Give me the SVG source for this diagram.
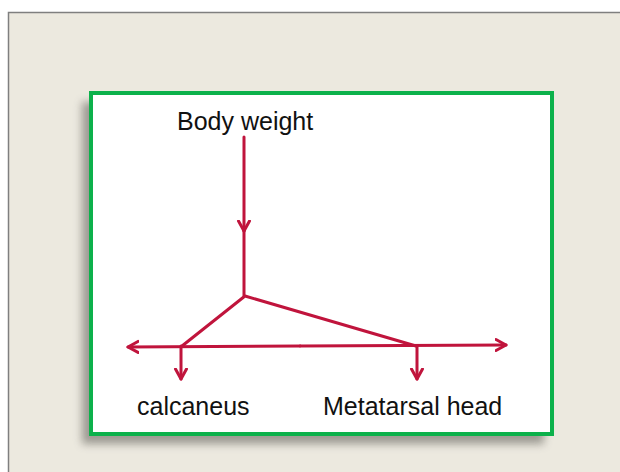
<svg xmlns="http://www.w3.org/2000/svg" width="620" height="472" viewBox="0 0 620 472">
<style>
.lbl{font-family:"Liberation Sans",Arial,sans-serif;font-size:25px;fill:#111}
.ar{stroke:#C0143C;stroke-width:3;fill:none;stroke-linecap:round;stroke-linejoin:round}
</style>
<defs>
<marker id="ah" markerUnits="userSpaceOnUse" markerWidth="16" markerHeight="16" refX="11" refY="6" orient="auto" viewBox="0 0 16 12">
<path d="M1,0.5 L11,6 L1,11.5" fill="none" stroke="#C0143C" stroke-width="3" stroke-linecap="round" stroke-linejoin="round"/>
</marker>
<filter id="sh" x="-10%" y="-10%" width="120%" height="125%">
<feGaussianBlur stdDeviation="4"/>
</filter>
</defs>
<rect x="0" y="0" width="620" height="472" fill="#ffffff"/>
<rect x="8.5" y="12.5" width="620" height="470" fill="#ECE9DF" stroke="#7f7f7f" stroke-width="1.5"/>
<g id="panel">
<rect x="82" y="102" width="462" height="342" fill="#8e8c85" filter="url(#sh)" opacity="0.85"/>
<rect x="91" y="93" width="461" height="341" fill="#ffffff" stroke="#0CB14B" stroke-width="4"/>
</g>
<g id="body-weight"><text class="lbl" x="177" y="130">Body weight</text></g>
<g id="calcaneus"><text class="lbl" x="137" y="415">calcaneus</text></g>
<g id="metatarsal-head"><text class="lbl" x="323" y="415">Metatarsal head</text></g>
<g id="connectors">
<line class="ar" x1="244" y1="137" x2="244" y2="231" marker-end="url(#ah)"/>
<line class="ar" x1="244" y1="228" x2="244" y2="296"/>
<polyline class="ar" points="182,346 245,296 416,346"/>
<line class="ar" x1="300" y1="346" x2="128" y2="347" marker-end="url(#ah)"/>
<line class="ar" x1="300" y1="346" x2="506" y2="345" marker-end="url(#ah)"/>
<line class="ar" x1="181" y1="346" x2="181" y2="379" marker-end="url(#ah)"/>
<line class="ar" x1="417" y1="346" x2="417" y2="379" marker-end="url(#ah)"/>
</g>
</svg>
